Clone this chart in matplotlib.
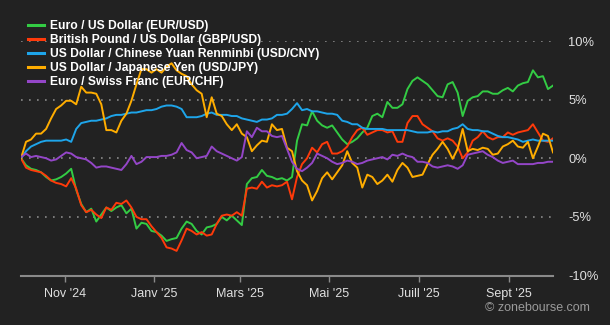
import pandas as pd
import matplotlib.pyplot as plt

plt.rcParams['font.family'] = ['Liberation Sans', 'DejaVu Sans']

# performance in %, roughly every 3.4 days, Oct 2024 -> Oct 2025
eur_usd = [0.0, -0.6, -0.9, -1.0, -1.2, -1.6, -1.9, -1.8, -1.6, -1.3,
           -0.9, -2.7, -3.9, -4.6, -4.3, -5.4, -4.8, -4.2, -4.5, -4.2,
           -4.0, -4.7, -4.3, -6.0, -5.5, -5.6, -6.2, -6.3, -6.6, -7.05,
           -6.9, -6.8, -6.0, -5.4, -5.6, -6.2, -6.5, -5.9, -5.8, -5.6,
           -5.0, -5.3, -4.9, -5.3, -5.7, -2.2, -1.7, -1.6, -1.0, -1.5,
           -1.6, -1.8, -1.7, -1.9, -1.6, 1.5, 2.9, 2.8, 4.0, 3.2,
           2.8, 2.6, 2.8, 2.2, 1.6, 1.2, 1.4, 1.7, 2.2, 2.6,
           3.6, 3.8, 3.5, 4.8, 4.3, 4.3, 4.6, 5.9, 6.6, 6.9,
           6.6, 6.3, 5.8, 5.3, 5.2, 6.3, 6.5, 5.6, 3.6, 4.9,
           5.2, 5.3, 5.7, 5.7, 5.5, 5.5, 5.8, 6.0, 5.7, 6.2,
           6.4, 6.5, 7.5, 6.9, 7.0, 5.9, 6.2]
gbp_usd = [0.0, -0.8, -1.0, -1.1, -1.2, -1.5, -1.9, -2.1, -2.2, -2.4,
           -1.7, -2.6, -4.0, -4.6, -4.4, -4.8, -5.1, -4.2, -4.4, -3.8,
           -3.9, -3.6, -4.2, -5.0, -5.2, -5.2, -5.8, -6.3, -6.8, -7.6,
           -7.7, -7.9, -7.0, -6.0, -6.2, -6.5, -6.3, -6.6, -6.5, -5.6,
           -4.9, -4.8, -4.9, -4.6, -4.9, -2.6, -2.5, -2.6, -2.0, -2.5,
           -2.3, -2.4, -2.3, -2.0, -3.5, -1.6, -0.5, 0.0, 0.9, 0.5,
           1.2, 1.4, 0.4, 0.4, 0.6, 1.0, 1.8, 2.4, 2.6, 2.0,
           2.2, 2.4, 2.4, 2.2, 2.3, 1.4, 1.4, 3.0, 3.6, 3.6,
           2.9, 2.6, 2.3, 1.7, 1.5, 1.7, 1.5, 1.0, 0.0, 0.5,
           1.5, 1.8, 2.3, 1.8, 1.6, 1.8, 1.8, 2.2, 2.0, 2.2,
           2.3, 2.4, 2.9, 2.2, 1.5, 1.4, 1.7]
usd_cny = [0.0, 0.6, 1.0, 1.2, 1.4, 1.5, 1.5, 1.5, 1.5, 1.6,
           1.4, 2.5, 3.0, 3.1, 3.2, 3.2, 3.3, 3.4, 3.6, 3.7,
           3.7, 3.8, 3.9, 3.9, 4.0, 4.1, 4.1, 4.2, 4.4, 4.5,
           4.5, 4.4, 4.2, 3.5, 3.5, 3.5, 3.6, 3.8, 3.9, 3.7,
           3.7, 3.7, 3.6, 3.6, 3.4, 3.3, 3.2, 3.1, 3.3, 3.3,
           3.4, 3.7, 3.7, 3.8, 4.2, 4.7, 4.1, 4.2, 4.0, 4.0,
           3.9, 3.8, 3.8, 3.7, 3.2, 3.1, 2.9, 2.9, 2.6, 2.5,
           2.5, 2.5, 2.5, 2.4, 2.4, 2.4, 2.4, 2.4, 2.3, 2.2,
           2.2, 2.2, 2.3, 2.2, 2.3, 2.3, 2.5, 2.6, 2.9, 2.5,
           2.4, 2.4, 2.3, 2.3, 2.1, 1.9, 1.8, 1.8, 1.7, 1.6,
           1.4, 1.5, 1.6, 1.5, 1.5, 1.5, 1.5]
usd_jpy = [0.0, 1.4, 1.6, 2.1, 2.1, 2.5, 3.4, 4.2, 4.5, 4.9,
           4.9, 4.6, 6.1, 5.6, 5.6, 5.5, 4.6, 2.4, 2.4, 2.2,
           3.2, 3.8, 4.9, 6.3, 7.6, 7.6, 7.3, 7.6, 7.3, 7.8,
           8.1, 7.5, 7.2, 7.0, 6.3, 5.8, 5.5, 3.5, 5.2, 3.8,
           3.6, 2.9, 2.4, 2.9, 2.1, 1.8, 0.6, 1.1, 1.5, 1.4,
           2.9, 2.4, 2.5, 0.9, 0.6, -1.1, -1.9, -2.3, -3.6, -2.8,
           -1.7, -1.2, -1.8, -1.2, -0.6, 0.6, -0.4, -0.8, -2.5, -1.4,
           -1.6, -2.2, -1.9, -1.4, -2.0, -1.0, -0.4, -0.8, -1.6, -1.5,
           -1.4, -0.5, 0.3, 0.8, 1.4, 0.8, -0.05, 0.8, 2.5, 0.6,
           0.8, 0.7, 0.9, 0.8, 0.3, 0.4, 1.0, 1.2, 1.5, 1.0,
           0.9, 1.4, 0.0, 1.0, 2.1, 1.9, 0.5]
eur_chf = [0.1, 0.4, 0.1, 0.2, 0.1, 0.0, -0.2, -0.1, 0.2, 0.5,
           0.4, 0.1, 0.0, -0.1, -0.4, -0.8, -0.7, -0.7, -0.8, -0.9,
           -1.0, -0.5, 0.2, -0.5, -0.3, 0.1, 0.1, 0.1, 0.2, 0.2,
           0.3, 0.5, 1.3, 0.7, 0.5, 0.0, 0.1, 0.2, 1.0, 0.6,
           0.4, 0.2, 0.0, -0.2, 0.1, 2.3, 1.8, 2.6, 2.3, 2.3,
           1.9, 1.8, 1.9, 0.8, -0.3, -0.9, -1.1, -0.8, -0.4, 0.4,
           0.2, 0.0, -0.3, -0.5, -0.4, -0.2, -0.3, -0.5, -0.4, -0.2,
           -0.1, 0.0, 0.1, -0.1, 0.3, 0.2, 0.4, 0.2, 0.1, -0.3,
           -0.3, -0.4, -0.7, -0.8, -0.7, -0.6, -0.7, -0.9, -0.6, 0.3,
           0.4, 0.5, 0.6, 0.3, 0.1, -0.2, -0.4, -0.3, -0.2, -0.5,
           -0.5, -0.5, -0.5, -0.4, -0.4, -0.3, -0.3]

labels = ["Euro / US Dollar (EUR/USD)",
          "British Pound / US Dollar (GBP/USD)",
          "US Dollar / Chinese Yuan Renminbi (USD/CNY)",
          "US Dollar / Japanese Yen (USD/JPY)",
          "Euro / Swiss Franc (EUR/CHF)"]
colors = ["#33cc44", "#ff3a0a", "#1ea5ea", "#ffad00", "#9446c8"]

tick_dates = ["2024-11-01", "2025-01-01", "2025-03-01", "2025-05-01", "2025-07-01", "2025-09-01"]
tick_labels = ["Nov '24", "Janv '25", "Mars '25", "Mai '25", "Juill '25", "Sept '25"]
y_ticks = [-10, -5, 0, 5, 10]

dates = pd.date_range("2024-10-02", "2025-10-01", periods=len(eur_usd))
bg = "#222222"

fig = plt.figure(figsize=(6.1, 3.25), dpi=100, facecolor=bg)
ax = fig.add_axes([21/610, 1 - 275.5/325, 532/610, (275.5 - 41)/325])
ax.set_facecolor(bg)

for v in y_ticks[1:]:
    ax.axhline(v, color="#8a8a8a", lw=1.2, ls=(0, (1, 3.8)), zorder=1)

series = [eur_usd, gbp_usd, usd_cny, usd_jpy, eur_chf]
for vals, lab, col in zip(series, labels, colors):
    ax.plot(dates, vals, color=col, lw=1.4, label=lab, zorder=3)

ax.set_xlim(dates[0], dates[-1])
ax.set_ylim(-10, 10)

ax.set_xticks(pd.to_datetime(tick_dates))
ax.set_xticklabels(tick_labels)
ax.set_yticks(y_ticks)
ax.set_yticklabels([f"{v}%" for v in y_ticks])
ax.yaxis.tick_right()
ax.tick_params(axis="y", length=0, pad=11, labelsize=9.3, labelcolor="#e0e0e0")
ax.tick_params(axis="x", length=4, width=1, color="#8a8a8a", pad=5,
               labelsize=9, labelcolor="#e0e0e0")

for s in ["top", "left", "right"]:
    ax.spines[s].set_visible(False)
ax.spines["bottom"].set_color("#8a8a8a")
ax.spines["bottom"].set_linewidth(1.5)

leg = fig.legend(loc="upper left", bbox_to_anchor=(28/610, 1 - 20/325),
                 frameon=False, labelcolor="white",
                 prop={"size": 8.7, "weight": "bold"},
                 handlelength=1.3, handletextpad=0.5, labelspacing=0.16,
                 borderpad=0, borderaxespad=0)
for line in leg.get_lines():
    line.set_linewidth(2.2)

fig.text(590/610, 1 - 308/325, "\u00a9 zonebourse.com", ha="right", va="center",
         color="#9a9a9a", fontsize=9)

fig.savefig("out.png", dpi=100, facecolor=bg)
